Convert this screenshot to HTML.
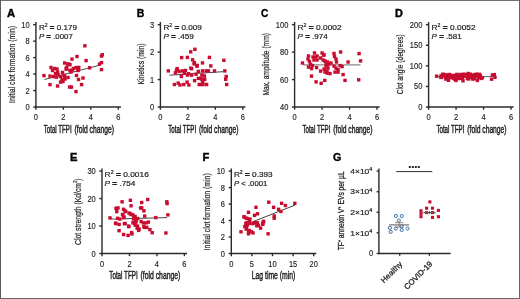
<!DOCTYPE html>
<html><head><meta charset="utf-8"><style>
html,body{margin:0;padding:0;background:#fff;}
body{width:520px;height:299px;overflow:hidden;}
svg{display:block;font-family:'Liberation Sans', sans-serif;will-change:transform;}
.lab{stroke:#231f20;stroke-width:0.45px;}
.tk{stroke:#231f20;stroke-width:0.16px;}
.ttl{stroke:#000;stroke-width:0.35px;}
text{stroke:#231f20;stroke-width:0.2px;}
.lab2{stroke:#231f20;stroke-width:0.3px;}
.ylab{stroke:#231f20;stroke-width:0.22px;}
.eq{stroke:#231f20;stroke-width:0.55px;}
</style></head><body>
<svg width="520" height="299" viewBox="0 0 520 299" fill="#231f20">
<rect x="0" y="0" width="520" height="299" fill="#fff"/>
<text transform="translate(7.00,16.70) scale(1.1,1)" font-size="10.2" font-weight="bold" fill="#000" class="ttl">A</text>
<line x1="35.90" y1="107.65" x2="35.90" y2="22.05" stroke="#2b2b2b" stroke-width="1.4"/>
<line x1="35.30" y1="107.05" x2="120.90" y2="107.05" stroke="#2b2b2b" stroke-width="1.4"/>
<line x1="33.20" y1="107.05" x2="35.90" y2="107.05" stroke="#2b2b2b" stroke-width="1.4"/>
<text transform="translate(29.60,110.05) scale(0.89,1)" font-size="8.4" text-anchor="end" class="tk">0</text>
<line x1="33.20" y1="90.57" x2="35.90" y2="90.57" stroke="#2b2b2b" stroke-width="1.4"/>
<text transform="translate(29.60,93.57) scale(0.89,1)" font-size="8.4" text-anchor="end" class="tk">2</text>
<line x1="33.20" y1="74.09" x2="35.90" y2="74.09" stroke="#2b2b2b" stroke-width="1.4"/>
<text transform="translate(29.60,77.09) scale(0.89,1)" font-size="8.4" text-anchor="end" class="tk">4</text>
<line x1="33.20" y1="57.61" x2="35.90" y2="57.61" stroke="#2b2b2b" stroke-width="1.4"/>
<text transform="translate(29.60,60.61) scale(0.89,1)" font-size="8.4" text-anchor="end" class="tk">6</text>
<line x1="33.20" y1="41.13" x2="35.90" y2="41.13" stroke="#2b2b2b" stroke-width="1.4"/>
<text transform="translate(29.60,44.13) scale(0.89,1)" font-size="8.4" text-anchor="end" class="tk">8</text>
<line x1="33.20" y1="24.65" x2="35.90" y2="24.65" stroke="#2b2b2b" stroke-width="1.4"/>
<text transform="translate(29.60,27.65) scale(0.89,1)" font-size="8.4" text-anchor="end" class="tk">10</text>
<line x1="35.90" y1="107.05" x2="35.90" y2="109.75" stroke="#2b2b2b" stroke-width="1.4"/>
<text transform="translate(35.90,120.05) scale(0.89,1)" font-size="8.4" text-anchor="middle" class="tk">0</text>
<line x1="63.37" y1="107.05" x2="63.37" y2="109.75" stroke="#2b2b2b" stroke-width="1.4"/>
<text transform="translate(63.37,120.05) scale(0.89,1)" font-size="8.4" text-anchor="middle" class="tk">2</text>
<line x1="90.83" y1="107.05" x2="90.83" y2="109.75" stroke="#2b2b2b" stroke-width="1.4"/>
<text transform="translate(90.83,120.05) scale(0.89,1)" font-size="8.4" text-anchor="middle" class="tk">4</text>
<line x1="118.30" y1="107.05" x2="118.30" y2="109.75" stroke="#2b2b2b" stroke-width="1.4"/>
<text transform="translate(118.30,120.05) scale(0.89,1)" font-size="8.4" text-anchor="middle" class="tk">6</text>
<text x="43.70" y="133.10" font-size="10.1" text-anchor="start" textLength="28.0" lengthAdjust="spacingAndGlyphs" class="lab">Total TFPI</text>
<text x="74.60" y="133.10" font-size="10.1" text-anchor="start" textLength="39.3" lengthAdjust="spacingAndGlyphs" class="lab">(fold change)</text>
<text transform="translate(14.90,103.00) rotate(-90)" font-size="9.9" class="ylab" textLength="77" lengthAdjust="spacingAndGlyphs">Initial clot formation (min)</text>
<text x="38.90" y="29.55" font-size="7.3" textLength="38" lengthAdjust="spacingAndGlyphs">R<tspan font-size="4.6" dy="-2.6">2</tspan><tspan dy="2.6"> <tspan class="eq">=</tspan> 0.179</tspan></text>
<text x="38.90" y="39.45" font-size="7.3" textLength="34" lengthAdjust="spacingAndGlyphs"><tspan font-style="italic">P</tspan> <tspan class="eq">=</tspan> .0007</text>
<text transform="translate(136.80,16.70) scale(1.03,1)" font-size="10.2" font-weight="bold" fill="#000" class="ttl">B</text>
<line x1="160.40" y1="107.65" x2="160.40" y2="22.05" stroke="#2b2b2b" stroke-width="1.4"/>
<line x1="159.80" y1="107.05" x2="245.40" y2="107.05" stroke="#2b2b2b" stroke-width="1.4"/>
<line x1="157.70" y1="107.05" x2="160.40" y2="107.05" stroke="#2b2b2b" stroke-width="1.4"/>
<text transform="translate(154.10,110.05) scale(0.89,1)" font-size="8.4" text-anchor="end" class="tk">0</text>
<line x1="157.70" y1="79.58" x2="160.40" y2="79.58" stroke="#2b2b2b" stroke-width="1.4"/>
<text transform="translate(154.10,82.58) scale(0.89,1)" font-size="8.4" text-anchor="end" class="tk">1</text>
<line x1="157.70" y1="52.12" x2="160.40" y2="52.12" stroke="#2b2b2b" stroke-width="1.4"/>
<text transform="translate(154.10,55.12) scale(0.89,1)" font-size="8.4" text-anchor="end" class="tk">2</text>
<line x1="157.70" y1="24.65" x2="160.40" y2="24.65" stroke="#2b2b2b" stroke-width="1.4"/>
<text transform="translate(154.10,27.65) scale(0.89,1)" font-size="8.4" text-anchor="end" class="tk">3</text>
<line x1="160.40" y1="107.05" x2="160.40" y2="109.75" stroke="#2b2b2b" stroke-width="1.4"/>
<text transform="translate(160.40,120.05) scale(0.89,1)" font-size="8.4" text-anchor="middle" class="tk">0</text>
<line x1="187.87" y1="107.05" x2="187.87" y2="109.75" stroke="#2b2b2b" stroke-width="1.4"/>
<text transform="translate(187.87,120.05) scale(0.89,1)" font-size="8.4" text-anchor="middle" class="tk">2</text>
<line x1="215.33" y1="107.05" x2="215.33" y2="109.75" stroke="#2b2b2b" stroke-width="1.4"/>
<text transform="translate(215.33,120.05) scale(0.89,1)" font-size="8.4" text-anchor="middle" class="tk">4</text>
<line x1="242.80" y1="107.05" x2="242.80" y2="109.75" stroke="#2b2b2b" stroke-width="1.4"/>
<text transform="translate(242.80,120.05) scale(0.89,1)" font-size="8.4" text-anchor="middle" class="tk">6</text>
<text x="168.20" y="133.10" font-size="10.1" text-anchor="start" textLength="28.0" lengthAdjust="spacingAndGlyphs" class="lab">Total TFPI</text>
<text x="199.10" y="133.10" font-size="10.1" text-anchor="start" textLength="39.3" lengthAdjust="spacingAndGlyphs" class="lab">(fold change)</text>
<text transform="translate(143.90,84.60) rotate(-90)" font-size="9.9" class="ylab" textLength="41" lengthAdjust="spacingAndGlyphs">Kinetics (min)</text>
<text x="163.40" y="29.55" font-size="7.3" textLength="38.5" lengthAdjust="spacingAndGlyphs">R<tspan font-size="4.6" dy="-2.6">2</tspan><tspan dy="2.6"> <tspan class="eq">=</tspan> 0.009</tspan></text>
<text x="163.40" y="39.45" font-size="7.3" textLength="30.5" lengthAdjust="spacingAndGlyphs"><tspan font-style="italic">P</tspan> <tspan class="eq">=</tspan> .459</text>
<text transform="translate(261.00,16.70) scale(0.99,1)" font-size="10.2" font-weight="bold" fill="#000" class="ttl">C</text>
<line x1="294.60" y1="107.65" x2="294.60" y2="22.05" stroke="#2b2b2b" stroke-width="1.4"/>
<line x1="294.00" y1="107.05" x2="379.60" y2="107.05" stroke="#2b2b2b" stroke-width="1.4"/>
<line x1="291.90" y1="107.05" x2="294.60" y2="107.05" stroke="#2b2b2b" stroke-width="1.4"/>
<text transform="translate(288.30,110.05) scale(0.89,1)" font-size="8.4" text-anchor="end" class="tk">40</text>
<line x1="291.90" y1="79.58" x2="294.60" y2="79.58" stroke="#2b2b2b" stroke-width="1.4"/>
<text transform="translate(288.30,82.58) scale(0.89,1)" font-size="8.4" text-anchor="end" class="tk">60</text>
<line x1="291.90" y1="52.12" x2="294.60" y2="52.12" stroke="#2b2b2b" stroke-width="1.4"/>
<text transform="translate(288.30,55.12) scale(0.89,1)" font-size="8.4" text-anchor="end" class="tk">80</text>
<line x1="291.90" y1="24.65" x2="294.60" y2="24.65" stroke="#2b2b2b" stroke-width="1.4"/>
<text transform="translate(288.30,27.65) scale(0.89,1)" font-size="8.4" text-anchor="end" class="tk">100</text>
<line x1="294.60" y1="107.05" x2="294.60" y2="109.75" stroke="#2b2b2b" stroke-width="1.4"/>
<text transform="translate(294.60,120.05) scale(0.89,1)" font-size="8.4" text-anchor="middle" class="tk">0</text>
<line x1="322.07" y1="107.05" x2="322.07" y2="109.75" stroke="#2b2b2b" stroke-width="1.4"/>
<text transform="translate(322.07,120.05) scale(0.89,1)" font-size="8.4" text-anchor="middle" class="tk">2</text>
<line x1="349.53" y1="107.05" x2="349.53" y2="109.75" stroke="#2b2b2b" stroke-width="1.4"/>
<text transform="translate(349.53,120.05) scale(0.89,1)" font-size="8.4" text-anchor="middle" class="tk">4</text>
<line x1="377.00" y1="107.05" x2="377.00" y2="109.75" stroke="#2b2b2b" stroke-width="1.4"/>
<text transform="translate(377.00,120.05) scale(0.89,1)" font-size="8.4" text-anchor="middle" class="tk">6</text>
<text x="302.40" y="133.10" font-size="10.1" text-anchor="start" textLength="28.0" lengthAdjust="spacingAndGlyphs" class="lab">Total TFPI</text>
<text x="333.30" y="133.10" font-size="10.1" text-anchor="start" textLength="39.3" lengthAdjust="spacingAndGlyphs" class="lab">(fold change)</text>
<text transform="translate(269.20,95.60) rotate(-90)" font-size="9.9" class="ylab" textLength="62.5" lengthAdjust="spacingAndGlyphs">Max. amplitude (mm)</text>
<text x="297.60" y="29.55" font-size="7.3" textLength="44" lengthAdjust="spacingAndGlyphs">R<tspan font-size="4.6" dy="-2.6">2</tspan><tspan dy="2.6"> <tspan class="eq">=</tspan> 0.0002</tspan></text>
<text x="297.60" y="39.45" font-size="7.3" textLength="30" lengthAdjust="spacingAndGlyphs"><tspan font-style="italic">P</tspan> <tspan class="eq">=</tspan> .974</text>
<text transform="translate(395.00,16.70) scale(1.07,1)" font-size="10.2" font-weight="bold" fill="#000" class="ttl">D</text>
<line x1="428.60" y1="107.65" x2="428.60" y2="22.05" stroke="#2b2b2b" stroke-width="1.4"/>
<line x1="428.00" y1="107.05" x2="513.60" y2="107.05" stroke="#2b2b2b" stroke-width="1.4"/>
<line x1="425.90" y1="107.05" x2="428.60" y2="107.05" stroke="#2b2b2b" stroke-width="1.4"/>
<text transform="translate(422.30,110.05) scale(0.89,1)" font-size="8.4" text-anchor="end" class="tk">0</text>
<line x1="425.90" y1="86.45" x2="428.60" y2="86.45" stroke="#2b2b2b" stroke-width="1.4"/>
<text transform="translate(422.30,89.45) scale(0.89,1)" font-size="8.4" text-anchor="end" class="tk">50</text>
<line x1="425.90" y1="65.85" x2="428.60" y2="65.85" stroke="#2b2b2b" stroke-width="1.4"/>
<text transform="translate(422.30,68.85) scale(0.89,1)" font-size="8.4" text-anchor="end" class="tk">100</text>
<line x1="425.90" y1="45.25" x2="428.60" y2="45.25" stroke="#2b2b2b" stroke-width="1.4"/>
<text transform="translate(422.30,48.25) scale(0.89,1)" font-size="8.4" text-anchor="end" class="tk">150</text>
<line x1="425.90" y1="24.65" x2="428.60" y2="24.65" stroke="#2b2b2b" stroke-width="1.4"/>
<text transform="translate(422.30,27.65) scale(0.89,1)" font-size="8.4" text-anchor="end" class="tk">200</text>
<line x1="428.60" y1="107.05" x2="428.60" y2="109.75" stroke="#2b2b2b" stroke-width="1.4"/>
<text transform="translate(428.60,120.05) scale(0.89,1)" font-size="8.4" text-anchor="middle" class="tk">0</text>
<line x1="456.07" y1="107.05" x2="456.07" y2="109.75" stroke="#2b2b2b" stroke-width="1.4"/>
<text transform="translate(456.07,120.05) scale(0.89,1)" font-size="8.4" text-anchor="middle" class="tk">2</text>
<line x1="483.53" y1="107.05" x2="483.53" y2="109.75" stroke="#2b2b2b" stroke-width="1.4"/>
<text transform="translate(483.53,120.05) scale(0.89,1)" font-size="8.4" text-anchor="middle" class="tk">4</text>
<line x1="511.00" y1="107.05" x2="511.00" y2="109.75" stroke="#2b2b2b" stroke-width="1.4"/>
<text transform="translate(511.00,120.05) scale(0.89,1)" font-size="8.4" text-anchor="middle" class="tk">6</text>
<text x="436.40" y="133.10" font-size="10.1" text-anchor="start" textLength="28.0" lengthAdjust="spacingAndGlyphs" class="lab">Total TFPI</text>
<text x="467.30" y="133.10" font-size="10.1" text-anchor="start" textLength="39.3" lengthAdjust="spacingAndGlyphs" class="lab">(fold change)</text>
<text transform="translate(403.00,94.30) rotate(-90)" font-size="9.9" class="ylab" textLength="60" lengthAdjust="spacingAndGlyphs">Clot angle (degrees)</text>
<text x="431.60" y="29.55" font-size="7.3" textLength="44" lengthAdjust="spacingAndGlyphs">R<tspan font-size="4.6" dy="-2.6">2</tspan><tspan dy="2.6"> <tspan class="eq">=</tspan> 0.0052</tspan></text>
<text x="431.60" y="39.45" font-size="7.3" textLength="30" lengthAdjust="spacingAndGlyphs"><tspan font-style="italic">P</tspan> <tspan class="eq">=</tspan> .581</text>
<text transform="translate(70.00,161.00) scale(1.1,1)" font-size="10.2" font-weight="bold" fill="#000" class="ttl">E</text>
<line x1="102.00" y1="254.10" x2="102.00" y2="168.50" stroke="#2b2b2b" stroke-width="1.4"/>
<line x1="101.40" y1="253.50" x2="187.00" y2="253.50" stroke="#2b2b2b" stroke-width="1.4"/>
<line x1="99.30" y1="253.50" x2="102.00" y2="253.50" stroke="#2b2b2b" stroke-width="1.4"/>
<text transform="translate(95.70,256.50) scale(0.89,1)" font-size="8.4" text-anchor="end" class="tk">0</text>
<line x1="99.30" y1="226.03" x2="102.00" y2="226.03" stroke="#2b2b2b" stroke-width="1.4"/>
<text transform="translate(95.70,229.03) scale(0.89,1)" font-size="8.4" text-anchor="end" class="tk">10</text>
<line x1="99.30" y1="198.57" x2="102.00" y2="198.57" stroke="#2b2b2b" stroke-width="1.4"/>
<text transform="translate(95.70,201.57) scale(0.89,1)" font-size="8.4" text-anchor="end" class="tk">20</text>
<line x1="99.30" y1="171.10" x2="102.00" y2="171.10" stroke="#2b2b2b" stroke-width="1.4"/>
<text transform="translate(95.70,174.10) scale(0.89,1)" font-size="8.4" text-anchor="end" class="tk">30</text>
<line x1="102.00" y1="253.50" x2="102.00" y2="256.20" stroke="#2b2b2b" stroke-width="1.4"/>
<text transform="translate(102.00,266.50) scale(0.89,1)" font-size="8.4" text-anchor="middle" class="tk">0</text>
<line x1="129.47" y1="253.50" x2="129.47" y2="256.20" stroke="#2b2b2b" stroke-width="1.4"/>
<text transform="translate(129.47,266.50) scale(0.89,1)" font-size="8.4" text-anchor="middle" class="tk">2</text>
<line x1="156.93" y1="253.50" x2="156.93" y2="256.20" stroke="#2b2b2b" stroke-width="1.4"/>
<text transform="translate(156.93,266.50) scale(0.89,1)" font-size="8.4" text-anchor="middle" class="tk">4</text>
<line x1="184.40" y1="253.50" x2="184.40" y2="256.20" stroke="#2b2b2b" stroke-width="1.4"/>
<text transform="translate(184.40,266.50) scale(0.89,1)" font-size="8.4" text-anchor="middle" class="tk">6</text>
<text x="109.30" y="278.90" font-size="10.1" text-anchor="start" textLength="28.31908831908832" lengthAdjust="spacingAndGlyphs" class="lab">Total TFPI</text>
<text x="140.55" y="278.90" font-size="10.1" text-anchor="start" textLength="39.74786324786324" lengthAdjust="spacingAndGlyphs" class="lab">(fold change)</text>
<text transform="translate(80.8,244.9) rotate(-90)" font-size="9.6" class="ylab" textLength="66.5" lengthAdjust="spacingAndGlyphs">Clot strength (Kd/cm<tspan font-size="6" dy="-3.5">2</tspan><tspan dy="3.5">)</tspan></text>
<text x="104.60" y="176.50" font-size="7.3" textLength="44.3" lengthAdjust="spacingAndGlyphs">R<tspan font-size="4.6" dy="-2.6">2</tspan><tspan dy="2.6"> <tspan class="eq">=</tspan> 0.0016</tspan></text>
<text x="104.60" y="186.40" font-size="7.3" textLength="30.8" lengthAdjust="spacingAndGlyphs"><tspan font-style="italic">P</tspan> <tspan class="eq">=</tspan> .754</text>
<text transform="translate(202.50,161.00) scale(1.1,1)" font-size="10.2" font-weight="bold" fill="#000" class="ttl">F</text>
<line x1="231.30" y1="254.10" x2="231.30" y2="168.50" stroke="#2b2b2b" stroke-width="1.4"/>
<line x1="230.70" y1="253.50" x2="316.30" y2="253.50" stroke="#2b2b2b" stroke-width="1.4"/>
<line x1="228.60" y1="253.50" x2="231.30" y2="253.50" stroke="#2b2b2b" stroke-width="1.4"/>
<text transform="translate(225.00,256.50) scale(0.89,1)" font-size="8.4" text-anchor="end" class="tk">0</text>
<line x1="228.60" y1="237.02" x2="231.30" y2="237.02" stroke="#2b2b2b" stroke-width="1.4"/>
<text transform="translate(225.00,240.02) scale(0.89,1)" font-size="8.4" text-anchor="end" class="tk">2</text>
<line x1="228.60" y1="220.54" x2="231.30" y2="220.54" stroke="#2b2b2b" stroke-width="1.4"/>
<text transform="translate(225.00,223.54) scale(0.89,1)" font-size="8.4" text-anchor="end" class="tk">4</text>
<line x1="228.60" y1="204.06" x2="231.30" y2="204.06" stroke="#2b2b2b" stroke-width="1.4"/>
<text transform="translate(225.00,207.06) scale(0.89,1)" font-size="8.4" text-anchor="end" class="tk">6</text>
<line x1="228.60" y1="187.58" x2="231.30" y2="187.58" stroke="#2b2b2b" stroke-width="1.4"/>
<text transform="translate(225.00,190.58) scale(0.89,1)" font-size="8.4" text-anchor="end" class="tk">8</text>
<line x1="228.60" y1="171.10" x2="231.30" y2="171.10" stroke="#2b2b2b" stroke-width="1.4"/>
<text transform="translate(225.00,174.10) scale(0.89,1)" font-size="8.4" text-anchor="end" class="tk">10</text>
<line x1="231.30" y1="253.50" x2="231.30" y2="256.20" stroke="#2b2b2b" stroke-width="1.4"/>
<text transform="translate(231.30,266.50) scale(0.89,1)" font-size="8.4" text-anchor="middle" class="tk">0</text>
<line x1="251.90" y1="253.50" x2="251.90" y2="256.20" stroke="#2b2b2b" stroke-width="1.4"/>
<text transform="translate(251.90,266.50) scale(0.89,1)" font-size="8.4" text-anchor="middle" class="tk">5</text>
<line x1="272.50" y1="253.50" x2="272.50" y2="256.20" stroke="#2b2b2b" stroke-width="1.4"/>
<text transform="translate(272.50,266.50) scale(0.89,1)" font-size="8.4" text-anchor="middle" class="tk">10</text>
<line x1="293.10" y1="253.50" x2="293.10" y2="256.20" stroke="#2b2b2b" stroke-width="1.4"/>
<text transform="translate(293.10,266.50) scale(0.89,1)" font-size="8.4" text-anchor="middle" class="tk">15</text>
<line x1="313.70" y1="253.50" x2="313.70" y2="256.20" stroke="#2b2b2b" stroke-width="1.4"/>
<text transform="translate(313.70,266.50) scale(0.89,1)" font-size="8.4" text-anchor="middle" class="tk">20</text>
<text x="251.80" y="279.20" font-size="10.1" text-anchor="start" textLength="43.5" lengthAdjust="spacingAndGlyphs" class="lab">Lag time (min)</text>
<text transform="translate(210.30,250.30) rotate(-90)" font-size="9.9" class="ylab" textLength="77" lengthAdjust="spacingAndGlyphs">Initial clot formation (min)</text>
<text x="233.90" y="176.50" font-size="7.3" textLength="38.8" lengthAdjust="spacingAndGlyphs">R<tspan font-size="4.6" dy="-2.6">2</tspan><tspan dy="2.6"> <tspan class="eq">=</tspan> 0.393</tspan></text>
<text x="233.90" y="186.40" font-size="7.3" textLength="33.5" lengthAdjust="spacingAndGlyphs"><tspan font-style="italic">P</tspan> <tspan class="lt">&lt;</tspan> .0001</text>
<text transform="translate(332.90,161.00) scale(1.05,1)" font-size="10.2" font-weight="bold" fill="#000" class="ttl">G</text>
<line x1="378.90" y1="254.10" x2="378.90" y2="168.50" stroke="#2b2b2b" stroke-width="1.4"/>
<line x1="378.30" y1="253.50" x2="450.60" y2="253.50" stroke="#2b2b2b" stroke-width="1.4"/>
<line x1="376.60" y1="253.50" x2="378.90" y2="253.50" stroke="#2b2b2b" stroke-width="1.4"/>
<text transform="translate(373.10,255.90) scale(0.89,1)" font-size="8.4" text-anchor="end" class="tk">0</text>
<line x1="376.60" y1="232.90" x2="378.90" y2="232.90" stroke="#2b2b2b" stroke-width="1.4"/>
<text x="350.30" y="235.60" font-size="7.5" textLength="22" lengthAdjust="spacingAndGlyphs">1×10<tspan font-size="4.8" dy="-2.8">4</tspan></text>
<line x1="376.60" y1="212.30" x2="378.90" y2="212.30" stroke="#2b2b2b" stroke-width="1.4"/>
<text x="350.30" y="215.00" font-size="7.5" textLength="22" lengthAdjust="spacingAndGlyphs">2×10<tspan font-size="4.8" dy="-2.8">4</tspan></text>
<line x1="376.60" y1="191.70" x2="378.90" y2="191.70" stroke="#2b2b2b" stroke-width="1.4"/>
<text x="350.30" y="194.40" font-size="7.5" textLength="22" lengthAdjust="spacingAndGlyphs">3×10<tspan font-size="4.8" dy="-2.8">4</tspan></text>
<line x1="376.60" y1="171.10" x2="378.90" y2="171.10" stroke="#2b2b2b" stroke-width="1.4"/>
<text x="350.30" y="173.80" font-size="7.5" textLength="22" lengthAdjust="spacingAndGlyphs">4×10<tspan font-size="4.8" dy="-2.8">4</tspan></text>
<line x1="399.70" y1="253.50" x2="399.70" y2="255.80" stroke="#2b2b2b" stroke-width="1.4"/>
<line x1="429.40" y1="253.50" x2="429.40" y2="255.80" stroke="#2b2b2b" stroke-width="1.4"/>
<text transform="translate(402.8,264.7) rotate(-45)" font-size="7.8" text-anchor="end" class="lab2">Healthy</text>
<text transform="translate(432.8,264.5) rotate(-45)" font-size="7.8" text-anchor="end" class="lab2">COVID-19</text>
<text transform="translate(343.6,250.3) rotate(-90)" font-size="9.6" class="lab2" textLength="79" lengthAdjust="spacingAndGlyphs">TF<tspan font-size="5" dy="-3">+</tspan><tspan dy="3"> annexin V</tspan><tspan font-size="5" dy="-3">+</tspan><tspan dy="3"> EVs per µL</tspan></text>
<line x1="396.30" y1="171.60" x2="432.30" y2="171.60" stroke="#333" stroke-width="1.0"/>
<rect x="408.80" y="166.0" width="2" height="2" fill="#2a2a2a"/>
<rect x="411.80" y="166.0" width="2" height="2" fill="#2a2a2a"/>
<rect x="414.80" y="166.0" width="2" height="2" fill="#2a2a2a"/>
<rect x="417.80" y="166.0" width="2" height="2" fill="#2a2a2a"/>
<line x1="44.50" y1="79.50" x2="100.50" y2="65.00" stroke="#333" stroke-width="0.9"/>
<line x1="169.40" y1="75.20" x2="225.70" y2="71.50" stroke="#333" stroke-width="0.9"/>
<line x1="303.30" y1="64.80" x2="360.50" y2="64.80" stroke="#888" stroke-width="1.2"/>
<line x1="436.60" y1="76.80" x2="493.00" y2="76.60" stroke="#2f5550" stroke-width="0.9"/>
<line x1="110.80" y1="219.10" x2="167.10" y2="217.60" stroke="#333" stroke-width="0.9"/>
<line x1="252.30" y1="221.90" x2="295.10" y2="205.10" stroke="#2a2a2a" stroke-width="0.9"/>
<rect x="42.30" y="73.90" width="3.4" height="3.4" fill="#c80c30"/>
<rect x="48.30" y="82.90" width="3.4" height="3.4" fill="#c80c30"/>
<rect x="49.30" y="65.80" width="3.4" height="3.4" fill="#c80c30"/>
<rect x="48.30" y="74.40" width="3.4" height="3.4" fill="#c80c30"/>
<rect x="51.80" y="74.90" width="3.4" height="3.4" fill="#c80c30"/>
<rect x="52.80" y="66.80" width="3.4" height="3.4" fill="#c80c30"/>
<rect x="55.30" y="67.30" width="3.4" height="3.4" fill="#c80c30"/>
<rect x="55.90" y="70.30" width="3.4" height="3.4" fill="#c80c30"/>
<rect x="54.90" y="75.40" width="3.4" height="3.4" fill="#c80c30"/>
<rect x="56.40" y="72.80" width="3.4" height="3.4" fill="#c80c30"/>
<rect x="62.90" y="61.30" width="3.4" height="3.4" fill="#c80c30"/>
<rect x="64.40" y="67.30" width="3.4" height="3.4" fill="#c80c30"/>
<rect x="62.90" y="74.40" width="3.4" height="3.4" fill="#c80c30"/>
<rect x="60.40" y="77.90" width="3.4" height="3.4" fill="#c80c30"/>
<rect x="55.90" y="84.30" width="3.4" height="3.4" fill="#c80c30"/>
<rect x="58.90" y="80.40" width="3.4" height="3.4" fill="#c80c30"/>
<rect x="83.20" y="44.10" width="3.4" height="3.4" fill="#c80c30"/>
<rect x="75.30" y="54.80" width="3.4" height="3.4" fill="#c80c30"/>
<rect x="70.30" y="57.40" width="3.4" height="3.4" fill="#c80c30"/>
<rect x="84.40" y="58.90" width="3.4" height="3.4" fill="#c80c30"/>
<rect x="67.30" y="62.40" width="3.4" height="3.4" fill="#c80c30"/>
<rect x="64.80" y="65.90" width="3.4" height="3.4" fill="#c80c30"/>
<rect x="74.30" y="65.90" width="3.4" height="3.4" fill="#c80c30"/>
<rect x="76.80" y="66.30" width="3.4" height="3.4" fill="#c80c30"/>
<rect x="87.90" y="66.10" width="3.4" height="3.4" fill="#c80c30"/>
<rect x="68.30" y="68.80" width="3.4" height="3.4" fill="#c80c30"/>
<rect x="69.30" y="70.30" width="3.4" height="3.4" fill="#c80c30"/>
<rect x="76.30" y="68.80" width="3.4" height="3.4" fill="#c80c30"/>
<rect x="62.30" y="73.80" width="3.4" height="3.4" fill="#c80c30"/>
<rect x="66.30" y="75.80" width="3.4" height="3.4" fill="#c80c30"/>
<rect x="63.30" y="77.30" width="3.4" height="3.4" fill="#c80c30"/>
<rect x="61.30" y="79.80" width="3.4" height="3.4" fill="#c80c30"/>
<rect x="74.80" y="73.80" width="3.4" height="3.4" fill="#c80c30"/>
<rect x="76.80" y="77.80" width="3.4" height="3.4" fill="#c80c30"/>
<rect x="81.30" y="76.30" width="3.4" height="3.4" fill="#c80c30"/>
<rect x="79.90" y="82.90" width="3.4" height="3.4" fill="#c80c30"/>
<rect x="69.80" y="85.40" width="3.4" height="3.4" fill="#c80c30"/>
<rect x="74.30" y="89.90" width="3.4" height="3.4" fill="#c80c30"/>
<rect x="99.80" y="54.30" width="3.4" height="3.4" fill="#c80c30"/>
<rect x="100.60" y="53.10" width="3.4" height="3.4" fill="#c80c30"/>
<rect x="99.80" y="60.90" width="3.4" height="3.4" fill="#c80c30"/>
<rect x="97.80" y="62.40" width="3.4" height="3.4" fill="#c80c30"/>
<rect x="99.80" y="67.90" width="3.4" height="3.4" fill="#c80c30"/>
<rect x="67.90" y="85.30" width="3.4" height="3.4" fill="#c80c30"/>
<rect x="53.80" y="71.80" width="3.4" height="3.4" fill="#c80c30"/>
<rect x="58.80" y="74.80" width="3.4" height="3.4" fill="#c80c30"/>
<rect x="60.80" y="70.80" width="3.4" height="3.4" fill="#c80c30"/>
<rect x="71.80" y="66.80" width="3.4" height="3.4" fill="#c80c30"/>
<rect x="50.80" y="68.80" width="3.4" height="3.4" fill="#c80c30"/>
<rect x="65.80" y="62.30" width="3.4" height="3.4" fill="#c80c30"/>
<rect x="68.30" y="63.10" width="3.4" height="3.4" fill="#c80c30"/>
<rect x="70.70" y="68.30" width="3.4" height="3.4" fill="#c80c30"/>
<rect x="77.00" y="65.70" width="3.4" height="3.4" fill="#c80c30"/>
<rect x="76.40" y="68.30" width="3.4" height="3.4" fill="#c80c30"/>
<rect x="65.00" y="67.30" width="3.4" height="3.4" fill="#c80c30"/>
<rect x="166.60" y="69.20" width="3.4" height="3.4" fill="#c80c30"/>
<rect x="175.50" y="66.90" width="3.4" height="3.4" fill="#c80c30"/>
<rect x="173.70" y="71.10" width="3.4" height="3.4" fill="#c80c30"/>
<rect x="177.40" y="69.70" width="3.4" height="3.4" fill="#c80c30"/>
<rect x="180.70" y="69.20" width="3.4" height="3.4" fill="#c80c30"/>
<rect x="182.60" y="71.50" width="3.4" height="3.4" fill="#c80c30"/>
<rect x="185.80" y="73.40" width="3.4" height="3.4" fill="#c80c30"/>
<rect x="179.70" y="74.80" width="3.4" height="3.4" fill="#c80c30"/>
<rect x="186.80" y="72.00" width="3.4" height="3.4" fill="#c80c30"/>
<rect x="189.10" y="66.40" width="3.4" height="3.4" fill="#c80c30"/>
<rect x="190.00" y="73.40" width="3.4" height="3.4" fill="#c80c30"/>
<rect x="192.40" y="62.20" width="3.4" height="3.4" fill="#c80c30"/>
<rect x="195.20" y="64.50" width="3.4" height="3.4" fill="#c80c30"/>
<rect x="196.60" y="69.70" width="3.4" height="3.4" fill="#c80c30"/>
<rect x="200.80" y="61.20" width="3.4" height="3.4" fill="#c80c30"/>
<rect x="200.80" y="69.20" width="3.4" height="3.4" fill="#c80c30"/>
<rect x="194.30" y="72.50" width="3.4" height="3.4" fill="#c80c30"/>
<rect x="196.60" y="76.70" width="3.4" height="3.4" fill="#c80c30"/>
<rect x="192.90" y="79.00" width="3.4" height="3.4" fill="#c80c30"/>
<rect x="200.30" y="78.10" width="3.4" height="3.4" fill="#c80c30"/>
<rect x="202.70" y="74.30" width="3.4" height="3.4" fill="#c80c30"/>
<rect x="172.70" y="82.80" width="3.4" height="3.4" fill="#c80c30"/>
<rect x="176.50" y="81.40" width="3.4" height="3.4" fill="#c80c30"/>
<rect x="178.30" y="83.30" width="3.4" height="3.4" fill="#c80c30"/>
<rect x="182.10" y="82.80" width="3.4" height="3.4" fill="#c80c30"/>
<rect x="185.40" y="80.40" width="3.4" height="3.4" fill="#c80c30"/>
<rect x="187.20" y="83.30" width="3.4" height="3.4" fill="#c80c30"/>
<rect x="197.50" y="82.80" width="3.4" height="3.4" fill="#c80c30"/>
<rect x="201.30" y="82.80" width="3.4" height="3.4" fill="#c80c30"/>
<rect x="193.20" y="47.60" width="3.4" height="3.4" fill="#c80c30"/>
<rect x="189.00" y="50.10" width="3.4" height="3.4" fill="#c80c30"/>
<rect x="180.00" y="55.90" width="3.4" height="3.4" fill="#c80c30"/>
<rect x="185.70" y="55.70" width="3.4" height="3.4" fill="#c80c30"/>
<rect x="190.90" y="58.10" width="3.4" height="3.4" fill="#c80c30"/>
<rect x="192.70" y="60.90" width="3.4" height="3.4" fill="#c80c30"/>
<rect x="195.50" y="63.70" width="3.4" height="3.4" fill="#c80c30"/>
<rect x="207.70" y="55.70" width="3.4" height="3.4" fill="#c80c30"/>
<rect x="209.10" y="64.20" width="3.4" height="3.4" fill="#c80c30"/>
<rect x="222.20" y="58.60" width="3.4" height="3.4" fill="#c80c30"/>
<rect x="189.90" y="67.00" width="3.4" height="3.4" fill="#c80c30"/>
<rect x="204.40" y="69.20" width="3.4" height="3.4" fill="#c80c30"/>
<rect x="206.70" y="69.20" width="3.4" height="3.4" fill="#c80c30"/>
<rect x="212.80" y="69.20" width="3.4" height="3.4" fill="#c80c30"/>
<rect x="223.10" y="69.20" width="3.4" height="3.4" fill="#c80c30"/>
<rect x="224.50" y="74.80" width="3.4" height="3.4" fill="#c80c30"/>
<rect x="224.00" y="77.60" width="3.4" height="3.4" fill="#c80c30"/>
<rect x="225.00" y="82.80" width="3.4" height="3.4" fill="#c80c30"/>
<rect x="200.20" y="73.40" width="3.4" height="3.4" fill="#c80c30"/>
<rect x="203.00" y="77.60" width="3.4" height="3.4" fill="#c80c30"/>
<rect x="201.10" y="80.00" width="3.4" height="3.4" fill="#c80c30"/>
<rect x="199.70" y="82.80" width="3.4" height="3.4" fill="#c80c30"/>
<rect x="204.90" y="82.80" width="3.4" height="3.4" fill="#c80c30"/>
<rect x="199.20" y="76.70" width="3.4" height="3.4" fill="#c80c30"/>
<rect x="183.80" y="68.80" width="3.4" height="3.4" fill="#c80c30"/>
<rect x="174.80" y="68.30" width="3.4" height="3.4" fill="#c80c30"/>
<rect x="300.80" y="61.30" width="3.4" height="3.4" fill="#c80c30"/>
<rect x="306.80" y="54.30" width="3.4" height="3.4" fill="#c80c30"/>
<rect x="306.30" y="57.30" width="3.4" height="3.4" fill="#c80c30"/>
<rect x="307.80" y="59.80" width="3.4" height="3.4" fill="#c80c30"/>
<rect x="306.80" y="65.40" width="3.4" height="3.4" fill="#c80c30"/>
<rect x="309.80" y="66.90" width="3.4" height="3.4" fill="#c80c30"/>
<rect x="312.80" y="51.30" width="3.4" height="3.4" fill="#c80c30"/>
<rect x="311.30" y="55.30" width="3.4" height="3.4" fill="#c80c30"/>
<rect x="312.30" y="58.30" width="3.4" height="3.4" fill="#c80c30"/>
<rect x="313.80" y="55.30" width="3.4" height="3.4" fill="#c80c30"/>
<rect x="315.40" y="54.30" width="3.4" height="3.4" fill="#c80c30"/>
<rect x="315.40" y="58.30" width="3.4" height="3.4" fill="#c80c30"/>
<rect x="314.90" y="65.90" width="3.4" height="3.4" fill="#c80c30"/>
<rect x="318.90" y="56.30" width="3.4" height="3.4" fill="#c80c30"/>
<rect x="320.40" y="51.30" width="3.4" height="3.4" fill="#c80c30"/>
<rect x="321.90" y="53.30" width="3.4" height="3.4" fill="#c80c30"/>
<rect x="321.40" y="58.30" width="3.4" height="3.4" fill="#c80c30"/>
<rect x="323.90" y="60.30" width="3.4" height="3.4" fill="#c80c30"/>
<rect x="325.40" y="63.30" width="3.4" height="3.4" fill="#c80c30"/>
<rect x="318.90" y="69.40" width="3.4" height="3.4" fill="#c80c30"/>
<rect x="322.40" y="67.40" width="3.4" height="3.4" fill="#c80c30"/>
<rect x="323.40" y="70.40" width="3.4" height="3.4" fill="#c80c30"/>
<rect x="325.40" y="71.40" width="3.4" height="3.4" fill="#c80c30"/>
<rect x="309.80" y="74.40" width="3.4" height="3.4" fill="#c80c30"/>
<rect x="322.30" y="53.30" width="3.4" height="3.4" fill="#c80c30"/>
<rect x="332.30" y="51.80" width="3.4" height="3.4" fill="#c80c30"/>
<rect x="338.90" y="50.30" width="3.4" height="3.4" fill="#c80c30"/>
<rect x="332.80" y="54.80" width="3.4" height="3.4" fill="#c80c30"/>
<rect x="334.30" y="57.30" width="3.4" height="3.4" fill="#c80c30"/>
<rect x="334.80" y="60.30" width="3.4" height="3.4" fill="#c80c30"/>
<rect x="346.40" y="60.30" width="3.4" height="3.4" fill="#c80c30"/>
<rect x="323.30" y="59.30" width="3.4" height="3.4" fill="#c80c30"/>
<rect x="325.80" y="60.30" width="3.4" height="3.4" fill="#c80c30"/>
<rect x="327.30" y="62.30" width="3.4" height="3.4" fill="#c80c30"/>
<rect x="329.30" y="61.30" width="3.4" height="3.4" fill="#c80c30"/>
<rect x="324.30" y="63.90" width="3.4" height="3.4" fill="#c80c30"/>
<rect x="326.30" y="66.40" width="3.4" height="3.4" fill="#c80c30"/>
<rect x="323.30" y="67.40" width="3.4" height="3.4" fill="#c80c30"/>
<rect x="325.30" y="69.90" width="3.4" height="3.4" fill="#c80c30"/>
<rect x="328.30" y="71.90" width="3.4" height="3.4" fill="#c80c30"/>
<rect x="332.30" y="64.40" width="3.4" height="3.4" fill="#c80c30"/>
<rect x="334.30" y="66.40" width="3.4" height="3.4" fill="#c80c30"/>
<rect x="338.40" y="63.90" width="3.4" height="3.4" fill="#c80c30"/>
<rect x="340.40" y="64.90" width="3.4" height="3.4" fill="#c80c30"/>
<rect x="336.30" y="67.90" width="3.4" height="3.4" fill="#c80c30"/>
<rect x="333.30" y="70.40" width="3.4" height="3.4" fill="#c80c30"/>
<rect x="336.30" y="70.40" width="3.4" height="3.4" fill="#c80c30"/>
<rect x="341.40" y="72.90" width="3.4" height="3.4" fill="#c80c30"/>
<rect x="314.40" y="80.20" width="3.4" height="3.4" fill="#c80c30"/>
<rect x="319.50" y="81.60" width="3.4" height="3.4" fill="#c80c30"/>
<rect x="323.10" y="78.70" width="3.4" height="3.4" fill="#c80c30"/>
<rect x="343.30" y="78.70" width="3.4" height="3.4" fill="#c80c30"/>
<rect x="357.00" y="78.10" width="3.4" height="3.4" fill="#c80c30"/>
<rect x="357.40" y="51.90" width="3.4" height="3.4" fill="#c80c30"/>
<rect x="358.90" y="59.20" width="3.4" height="3.4" fill="#c80c30"/>
<rect x="308.80" y="62.80" width="3.4" height="3.4" fill="#c80c30"/>
<rect x="310.80" y="63.80" width="3.4" height="3.4" fill="#c80c30"/>
<rect x="434.90" y="74.50" width="3.4" height="3.4" fill="#c80c30"/>
<rect x="490.70" y="73.30" width="3.4" height="3.4" fill="#c80c30"/>
<rect x="492.60" y="72.90" width="3.4" height="3.4" fill="#c80c30"/>
<rect x="489.90" y="77.50" width="3.4" height="3.4" fill="#c80c30"/>
<rect x="493.30" y="75.60" width="3.4" height="3.4" fill="#c80c30"/>
<rect x="475.70" y="78.70" width="3.4" height="3.4" fill="#c80c30"/>
<rect x="480.70" y="76.00" width="3.4" height="3.4" fill="#c80c30"/>
<rect x="466.50" y="71.80" width="3.4" height="3.4" fill="#c80c30"/>
<rect x="471.80" y="73.30" width="3.4" height="3.4" fill="#c80c30"/>
<rect x="446.80" y="78.60" width="3.4" height="3.4" fill="#c80c30"/>
<rect x="454.30" y="78.80" width="3.4" height="3.4" fill="#c80c30"/>
<rect x="461.30" y="79.10" width="3.4" height="3.4" fill="#c80c30"/>
<rect x="439.38" y="74.12" width="3.4" height="3.4" fill="#c80c30"/>
<rect x="439.29" y="75.75" width="3.4" height="3.4" fill="#c80c30"/>
<rect x="439.64" y="75.18" width="3.4" height="3.4" fill="#c80c30"/>
<rect x="441.51" y="72.79" width="3.4" height="3.4" fill="#c80c30"/>
<rect x="441.42" y="72.69" width="3.4" height="3.4" fill="#c80c30"/>
<rect x="441.01" y="72.85" width="3.4" height="3.4" fill="#c80c30"/>
<rect x="443.59" y="74.62" width="3.4" height="3.4" fill="#c80c30"/>
<rect x="442.87" y="73.12" width="3.4" height="3.4" fill="#c80c30"/>
<rect x="443.74" y="75.64" width="3.4" height="3.4" fill="#c80c30"/>
<rect x="444.78" y="75.39" width="3.4" height="3.4" fill="#c80c30"/>
<rect x="444.36" y="77.38" width="3.4" height="3.4" fill="#c80c30"/>
<rect x="444.65" y="76.79" width="3.4" height="3.4" fill="#c80c30"/>
<rect x="446.14" y="73.22" width="3.4" height="3.4" fill="#c80c30"/>
<rect x="446.98" y="74.04" width="3.4" height="3.4" fill="#c80c30"/>
<rect x="446.70" y="73.40" width="3.4" height="3.4" fill="#c80c30"/>
<rect x="448.15" y="75.69" width="3.4" height="3.4" fill="#c80c30"/>
<rect x="447.78" y="75.24" width="3.4" height="3.4" fill="#c80c30"/>
<rect x="447.95" y="72.80" width="3.4" height="3.4" fill="#c80c30"/>
<rect x="449.91" y="75.90" width="3.4" height="3.4" fill="#c80c30"/>
<rect x="450.10" y="74.07" width="3.4" height="3.4" fill="#c80c30"/>
<rect x="449.76" y="74.77" width="3.4" height="3.4" fill="#c80c30"/>
<rect x="451.94" y="76.47" width="3.4" height="3.4" fill="#c80c30"/>
<rect x="451.79" y="73.72" width="3.4" height="3.4" fill="#c80c30"/>
<rect x="452.15" y="75.13" width="3.4" height="3.4" fill="#c80c30"/>
<rect x="453.15" y="76.15" width="3.4" height="3.4" fill="#c80c30"/>
<rect x="452.94" y="77.40" width="3.4" height="3.4" fill="#c80c30"/>
<rect x="453.71" y="74.59" width="3.4" height="3.4" fill="#c80c30"/>
<rect x="455.09" y="73.26" width="3.4" height="3.4" fill="#c80c30"/>
<rect x="455.30" y="72.70" width="3.4" height="3.4" fill="#c80c30"/>
<rect x="455.19" y="76.32" width="3.4" height="3.4" fill="#c80c30"/>
<rect x="456.58" y="76.88" width="3.4" height="3.4" fill="#c80c30"/>
<rect x="456.91" y="75.98" width="3.4" height="3.4" fill="#c80c30"/>
<rect x="456.75" y="75.40" width="3.4" height="3.4" fill="#c80c30"/>
<rect x="459.03" y="76.70" width="3.4" height="3.4" fill="#c80c30"/>
<rect x="458.70" y="74.87" width="3.4" height="3.4" fill="#c80c30"/>
<rect x="458.74" y="72.80" width="3.4" height="3.4" fill="#c80c30"/>
<rect x="460.79" y="75.74" width="3.4" height="3.4" fill="#c80c30"/>
<rect x="459.94" y="76.61" width="3.4" height="3.4" fill="#c80c30"/>
<rect x="460.40" y="74.43" width="3.4" height="3.4" fill="#c80c30"/>
<rect x="461.85" y="72.61" width="3.4" height="3.4" fill="#c80c30"/>
<rect x="461.44" y="73.34" width="3.4" height="3.4" fill="#c80c30"/>
<rect x="462.22" y="72.79" width="3.4" height="3.4" fill="#c80c30"/>
<rect x="463.30" y="73.15" width="3.4" height="3.4" fill="#c80c30"/>
<rect x="464.05" y="74.45" width="3.4" height="3.4" fill="#c80c30"/>
<rect x="463.54" y="72.90" width="3.4" height="3.4" fill="#c80c30"/>
<rect x="465.76" y="75.25" width="3.4" height="3.4" fill="#c80c30"/>
<rect x="465.74" y="76.60" width="3.4" height="3.4" fill="#c80c30"/>
<rect x="465.20" y="73.89" width="3.4" height="3.4" fill="#c80c30"/>
<rect x="467.46" y="74.29" width="3.4" height="3.4" fill="#c80c30"/>
<rect x="466.58" y="77.29" width="3.4" height="3.4" fill="#c80c30"/>
<rect x="466.68" y="73.38" width="3.4" height="3.4" fill="#c80c30"/>
<rect x="468.68" y="73.67" width="3.4" height="3.4" fill="#c80c30"/>
<rect x="468.42" y="75.45" width="3.4" height="3.4" fill="#c80c30"/>
<rect x="468.60" y="72.52" width="3.4" height="3.4" fill="#c80c30"/>
<rect x="470.48" y="74.35" width="3.4" height="3.4" fill="#c80c30"/>
<rect x="470.63" y="77.27" width="3.4" height="3.4" fill="#c80c30"/>
<rect x="470.54" y="75.08" width="3.4" height="3.4" fill="#c80c30"/>
<rect x="471.56" y="75.88" width="3.4" height="3.4" fill="#c80c30"/>
<rect x="472.44" y="77.00" width="3.4" height="3.4" fill="#c80c30"/>
<rect x="472.46" y="76.87" width="3.4" height="3.4" fill="#c80c30"/>
<rect x="473.68" y="74.46" width="3.4" height="3.4" fill="#c80c30"/>
<rect x="473.96" y="73.02" width="3.4" height="3.4" fill="#c80c30"/>
<rect x="473.28" y="72.81" width="3.4" height="3.4" fill="#c80c30"/>
<rect x="475.09" y="73.54" width="3.4" height="3.4" fill="#c80c30"/>
<rect x="474.96" y="74.20" width="3.4" height="3.4" fill="#c80c30"/>
<rect x="475.08" y="72.50" width="3.4" height="3.4" fill="#c80c30"/>
<rect x="477.04" y="73.01" width="3.4" height="3.4" fill="#c80c30"/>
<rect x="477.65" y="72.63" width="3.4" height="3.4" fill="#c80c30"/>
<rect x="476.78" y="75.57" width="3.4" height="3.4" fill="#c80c30"/>
<rect x="478.72" y="73.76" width="3.4" height="3.4" fill="#c80c30"/>
<rect x="478.45" y="74.32" width="3.4" height="3.4" fill="#c80c30"/>
<rect x="479.49" y="76.74" width="3.4" height="3.4" fill="#c80c30"/>
<rect x="108.30" y="216.20" width="3.4" height="3.4" fill="#c80c30"/>
<rect x="120.40" y="200.10" width="3.4" height="3.4" fill="#c80c30"/>
<rect x="128.70" y="198.60" width="3.4" height="3.4" fill="#c80c30"/>
<rect x="129.40" y="204.10" width="3.4" height="3.4" fill="#c80c30"/>
<rect x="140.00" y="200.80" width="3.4" height="3.4" fill="#c80c30"/>
<rect x="146.00" y="197.80" width="3.4" height="3.4" fill="#c80c30"/>
<rect x="114.30" y="206.60" width="3.4" height="3.4" fill="#c80c30"/>
<rect x="115.10" y="209.90" width="3.4" height="3.4" fill="#c80c30"/>
<rect x="121.90" y="207.60" width="3.4" height="3.4" fill="#c80c30"/>
<rect x="124.10" y="209.90" width="3.4" height="3.4" fill="#c80c30"/>
<rect x="121.10" y="212.90" width="3.4" height="3.4" fill="#c80c30"/>
<rect x="128.70" y="212.10" width="3.4" height="3.4" fill="#c80c30"/>
<rect x="115.90" y="216.60" width="3.4" height="3.4" fill="#c80c30"/>
<rect x="118.10" y="217.40" width="3.4" height="3.4" fill="#c80c30"/>
<rect x="121.90" y="215.90" width="3.4" height="3.4" fill="#c80c30"/>
<rect x="132.40" y="215.10" width="3.4" height="3.4" fill="#c80c30"/>
<rect x="134.70" y="217.40" width="3.4" height="3.4" fill="#c80c30"/>
<rect x="140.00" y="206.10" width="3.4" height="3.4" fill="#c80c30"/>
<rect x="142.20" y="209.10" width="3.4" height="3.4" fill="#c80c30"/>
<rect x="143.00" y="214.40" width="3.4" height="3.4" fill="#c80c30"/>
<rect x="114.30" y="221.90" width="3.4" height="3.4" fill="#c80c30"/>
<rect x="117.40" y="222.70" width="3.4" height="3.4" fill="#c80c30"/>
<rect x="123.40" y="221.90" width="3.4" height="3.4" fill="#c80c30"/>
<rect x="127.10" y="224.90" width="3.4" height="3.4" fill="#c80c30"/>
<rect x="131.70" y="221.20" width="3.4" height="3.4" fill="#c80c30"/>
<rect x="133.90" y="223.40" width="3.4" height="3.4" fill="#c80c30"/>
<rect x="135.40" y="226.40" width="3.4" height="3.4" fill="#c80c30"/>
<rect x="136.90" y="228.70" width="3.4" height="3.4" fill="#c80c30"/>
<rect x="141.50" y="221.20" width="3.4" height="3.4" fill="#c80c30"/>
<rect x="143.00" y="225.70" width="3.4" height="3.4" fill="#c80c30"/>
<rect x="146.70" y="220.40" width="3.4" height="3.4" fill="#c80c30"/>
<rect x="148.20" y="227.90" width="3.4" height="3.4" fill="#c80c30"/>
<rect x="150.50" y="231.00" width="3.4" height="3.4" fill="#c80c30"/>
<rect x="117.40" y="229.00" width="3.4" height="3.4" fill="#c80c30"/>
<rect x="121.90" y="232.80" width="3.4" height="3.4" fill="#c80c30"/>
<rect x="126.40" y="233.70" width="3.4" height="3.4" fill="#c80c30"/>
<rect x="130.20" y="232.20" width="3.4" height="3.4" fill="#c80c30"/>
<rect x="154.10" y="215.90" width="3.4" height="3.4" fill="#c80c30"/>
<rect x="165.10" y="200.10" width="3.4" height="3.4" fill="#c80c30"/>
<rect x="165.40" y="201.90" width="3.4" height="3.4" fill="#c80c30"/>
<rect x="166.20" y="213.20" width="3.4" height="3.4" fill="#c80c30"/>
<rect x="144.30" y="221.20" width="3.4" height="3.4" fill="#c80c30"/>
<rect x="142.10" y="224.90" width="3.4" height="3.4" fill="#c80c30"/>
<rect x="145.10" y="225.70" width="3.4" height="3.4" fill="#c80c30"/>
<rect x="164.20" y="231.30" width="3.4" height="3.4" fill="#c80c30"/>
<rect x="116.30" y="206.30" width="3.4" height="3.4" fill="#c80c30"/>
<rect x="123.30" y="209.30" width="3.4" height="3.4" fill="#c80c30"/>
<rect x="120.80" y="212.80" width="3.4" height="3.4" fill="#c80c30"/>
<rect x="122.30" y="215.30" width="3.4" height="3.4" fill="#c80c30"/>
<rect x="127.40" y="211.30" width="3.4" height="3.4" fill="#c80c30"/>
<rect x="129.40" y="212.80" width="3.4" height="3.4" fill="#c80c30"/>
<rect x="131.40" y="213.30" width="3.4" height="3.4" fill="#c80c30"/>
<rect x="133.40" y="214.80" width="3.4" height="3.4" fill="#c80c30"/>
<rect x="135.90" y="216.80" width="3.4" height="3.4" fill="#c80c30"/>
<rect x="131.90" y="217.30" width="3.4" height="3.4" fill="#c80c30"/>
<rect x="131.40" y="220.90" width="3.4" height="3.4" fill="#c80c30"/>
<rect x="134.40" y="219.80" width="3.4" height="3.4" fill="#c80c30"/>
<rect x="133.40" y="222.90" width="3.4" height="3.4" fill="#c80c30"/>
<rect x="135.90" y="224.40" width="3.4" height="3.4" fill="#c80c30"/>
<rect x="137.40" y="227.40" width="3.4" height="3.4" fill="#c80c30"/>
<rect x="113.80" y="221.40" width="3.4" height="3.4" fill="#c80c30"/>
<rect x="122.80" y="221.90" width="3.4" height="3.4" fill="#c80c30"/>
<rect x="126.90" y="224.40" width="3.4" height="3.4" fill="#c80c30"/>
<rect x="129.90" y="230.90" width="3.4" height="3.4" fill="#c80c30"/>
<rect x="138.90" y="206.30" width="3.4" height="3.4" fill="#c80c30"/>
<rect x="139.40" y="219.80" width="3.4" height="3.4" fill="#c80c30"/>
<rect x="267.10" y="200.50" width="3.4" height="3.4" fill="#c80c30"/>
<rect x="279.90" y="201.60" width="3.4" height="3.4" fill="#c80c30"/>
<rect x="283.70" y="203.80" width="3.4" height="3.4" fill="#c80c30"/>
<rect x="293.10" y="201.60" width="3.4" height="3.4" fill="#c80c30"/>
<rect x="254.30" y="205.60" width="3.4" height="3.4" fill="#c80c30"/>
<rect x="271.90" y="205.60" width="3.4" height="3.4" fill="#c80c30"/>
<rect x="276.90" y="207.60" width="3.4" height="3.4" fill="#c80c30"/>
<rect x="279.20" y="209.80" width="3.4" height="3.4" fill="#c80c30"/>
<rect x="246.80" y="210.60" width="3.4" height="3.4" fill="#c80c30"/>
<rect x="255.80" y="212.10" width="3.4" height="3.4" fill="#c80c30"/>
<rect x="252.80" y="213.60" width="3.4" height="3.4" fill="#c80c30"/>
<rect x="242.30" y="215.10" width="3.4" height="3.4" fill="#c80c30"/>
<rect x="244.60" y="216.60" width="3.4" height="3.4" fill="#c80c30"/>
<rect x="248.30" y="217.40" width="3.4" height="3.4" fill="#c80c30"/>
<rect x="272.50" y="214.30" width="3.4" height="3.4" fill="#c80c30"/>
<rect x="272.50" y="216.50" width="3.4" height="3.4" fill="#c80c30"/>
<rect x="245.30" y="221.10" width="3.4" height="3.4" fill="#c80c30"/>
<rect x="251.30" y="221.90" width="3.4" height="3.4" fill="#c80c30"/>
<rect x="255.80" y="221.10" width="3.4" height="3.4" fill="#c80c30"/>
<rect x="261.90" y="220.10" width="3.4" height="3.4" fill="#c80c30"/>
<rect x="261.10" y="222.60" width="3.4" height="3.4" fill="#c80c30"/>
<rect x="243.10" y="224.90" width="3.4" height="3.4" fill="#c80c30"/>
<rect x="244.60" y="227.10" width="3.4" height="3.4" fill="#c80c30"/>
<rect x="255.10" y="224.10" width="3.4" height="3.4" fill="#c80c30"/>
<rect x="258.90" y="226.40" width="3.4" height="3.4" fill="#c80c30"/>
<rect x="239.30" y="230.10" width="3.4" height="3.4" fill="#c80c30"/>
<rect x="246.80" y="229.40" width="3.4" height="3.4" fill="#c80c30"/>
<rect x="251.30" y="231.20" width="3.4" height="3.4" fill="#c80c30"/>
<rect x="266.40" y="232.10" width="3.4" height="3.4" fill="#c80c30"/>
<rect x="246.80" y="232.10" width="3.4" height="3.4" fill="#c80c30"/>
<rect x="242.70" y="215.40" width="3.4" height="3.4" fill="#c80c30"/>
<rect x="245.50" y="216.80" width="3.4" height="3.4" fill="#c80c30"/>
<rect x="247.60" y="218.90" width="3.4" height="3.4" fill="#c80c30"/>
<rect x="244.10" y="221.70" width="3.4" height="3.4" fill="#c80c30"/>
<rect x="245.50" y="223.80" width="3.4" height="3.4" fill="#c80c30"/>
<rect x="244.80" y="227.30" width="3.4" height="3.4" fill="#c80c30"/>
<rect x="247.60" y="228.70" width="3.4" height="3.4" fill="#c80c30"/>
<rect x="249.80" y="230.10" width="3.4" height="3.4" fill="#c80c30"/>
<rect x="248.30" y="221.70" width="3.4" height="3.4" fill="#c80c30"/>
<rect x="252.60" y="221.00" width="3.4" height="3.4" fill="#c80c30"/>
<rect x="256.80" y="223.80" width="3.4" height="3.4" fill="#c80c30"/>
<rect x="261.00" y="221.70" width="3.4" height="3.4" fill="#c80c30"/>
<rect x="261.70" y="219.60" width="3.4" height="3.4" fill="#c80c30"/>
<circle cx="395.80" cy="216.00" r="1.55" fill="none" stroke="#2c5d9c" stroke-width="0.9"/>
<circle cx="401.70" cy="216.00" r="1.55" fill="none" stroke="#2c5d9c" stroke-width="0.9"/>
<circle cx="398.80" cy="220.50" r="1.55" fill="none" stroke="#2c5d9c" stroke-width="0.9"/>
<circle cx="389.90" cy="227.80" r="1.55" fill="none" stroke="#2c5d9c" stroke-width="0.9"/>
<circle cx="390.70" cy="231.90" r="1.55" fill="none" stroke="#2c5d9c" stroke-width="0.9"/>
<circle cx="395.80" cy="228.50" r="1.55" fill="none" stroke="#2c5d9c" stroke-width="0.9"/>
<circle cx="401.70" cy="226.30" r="1.55" fill="none" stroke="#2c5d9c" stroke-width="0.9"/>
<circle cx="401.70" cy="230.00" r="1.55" fill="none" stroke="#2c5d9c" stroke-width="0.9"/>
<circle cx="407.60" cy="228.50" r="1.55" fill="none" stroke="#2c5d9c" stroke-width="0.9"/>
<line x1="389.20" y1="224.90" x2="409.10" y2="224.90" stroke="#7a7a7a" stroke-width="1.3"/>
<line x1="399.10" y1="222.70" x2="399.10" y2="227.10" stroke="#7a7a7a" stroke-width="0.9"/>
<line x1="395.00" y1="222.70" x2="403.30" y2="222.70" stroke="#7a7a7a" stroke-width="0.9"/>
<line x1="395.00" y1="227.10" x2="403.30" y2="227.10" stroke="#7a7a7a" stroke-width="0.9"/>
<rect x="428.35" y="200.35" width="3.1" height="3.1" fill="#c80c30"/>
<rect x="425.05" y="206.65" width="3.1" height="3.1" fill="#c80c30"/>
<rect x="430.95" y="206.65" width="3.1" height="3.1" fill="#c80c30"/>
<rect x="419.45" y="209.25" width="3.1" height="3.1" fill="#c80c30"/>
<rect x="419.45" y="212.15" width="3.1" height="3.1" fill="#c80c30"/>
<rect x="419.45" y="215.15" width="3.1" height="3.1" fill="#c80c30"/>
<rect x="430.95" y="211.05" width="3.1" height="3.1" fill="#c80c30"/>
<rect x="436.85" y="208.85" width="3.1" height="3.1" fill="#c80c30"/>
<rect x="436.85" y="215.15" width="3.1" height="3.1" fill="#c80c30"/>
<rect x="430.95" y="215.85" width="3.1" height="3.1" fill="#c80c30"/>
<rect x="425.05" y="211.05" width="3.1" height="3.1" fill="#c80c30"/>
<line x1="423.30" y1="212.60" x2="435.60" y2="212.60" stroke="#5a5a5a" stroke-width="1.3"/>
<line x1="429.50" y1="211.00" x2="429.50" y2="214.20" stroke="#5a5a5a" stroke-width="0.9"/>
<rect x="0" y="0" width="520" height="1" fill="#707070"/><rect x="0" y="0" width="1" height="299" fill="#5a5a5a"/><rect x="519" y="0" width="1" height="299" fill="#646464"/><rect x="0" y="298" width="520" height="1" fill="#666666"/>
</svg>
</body></html>
